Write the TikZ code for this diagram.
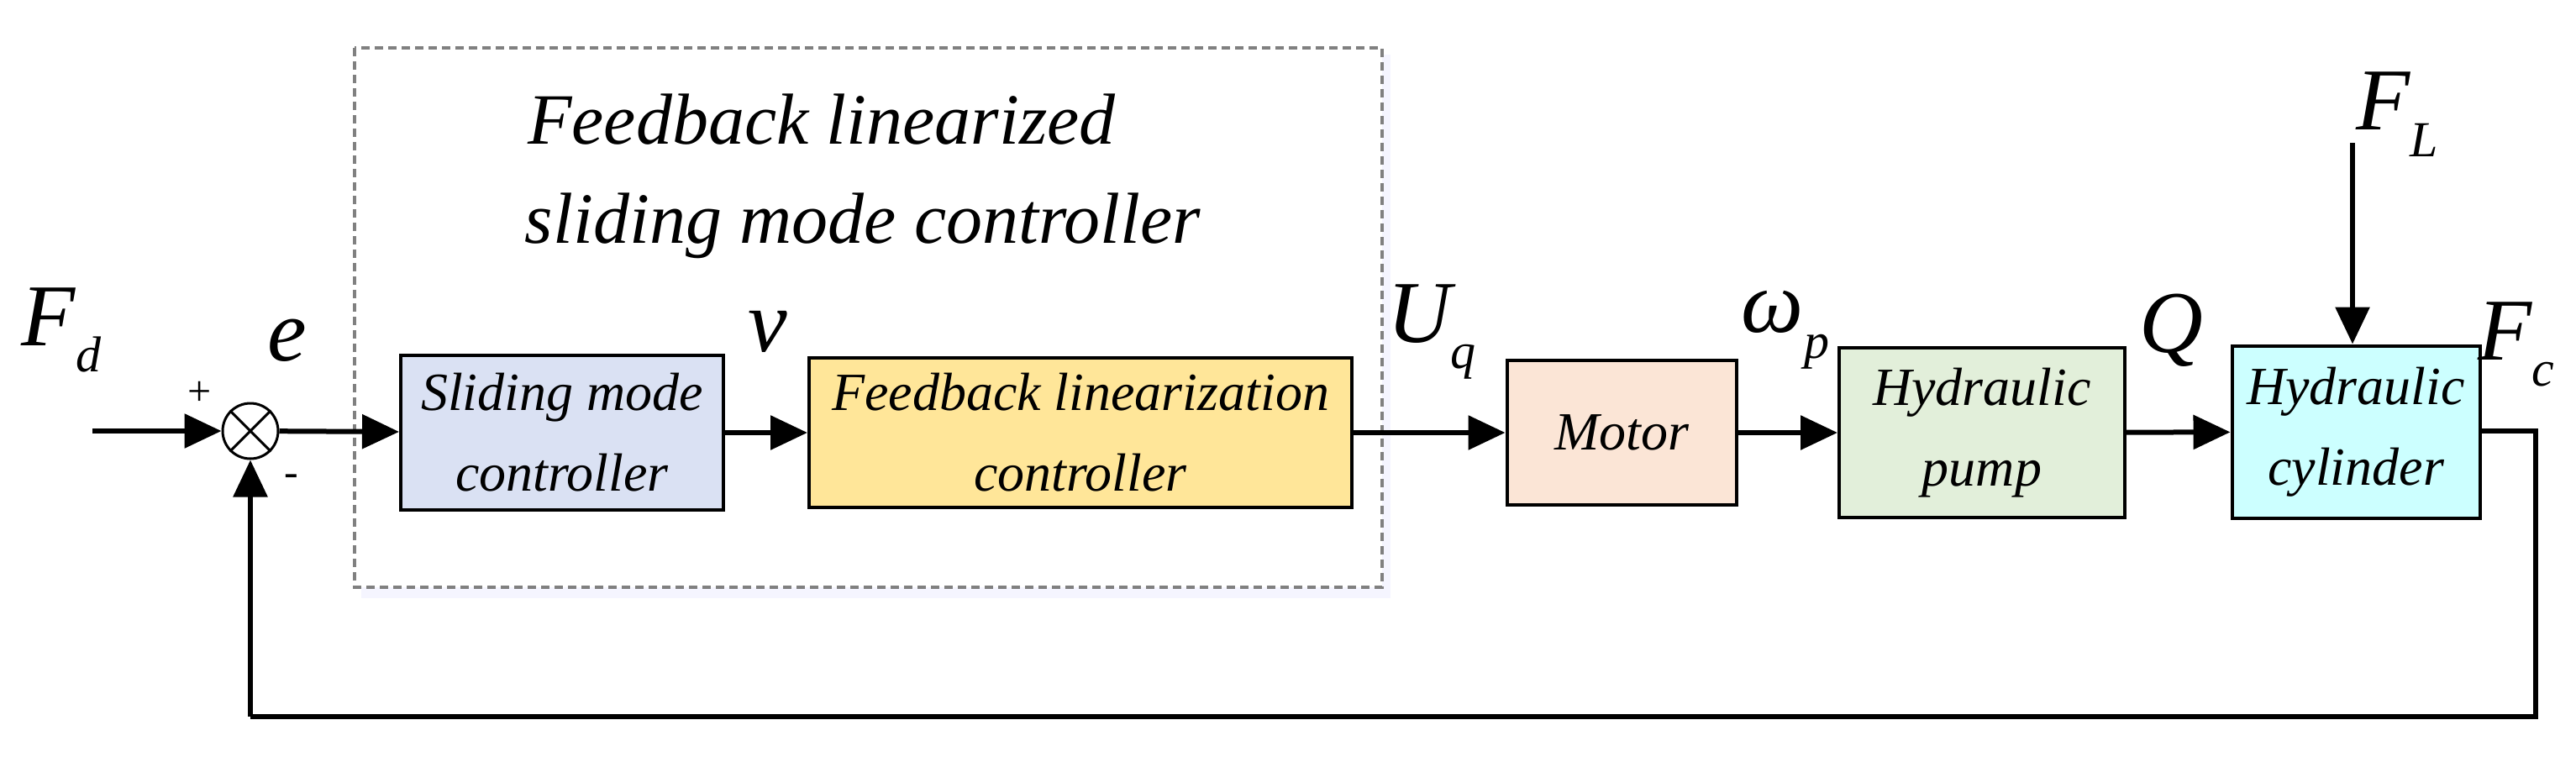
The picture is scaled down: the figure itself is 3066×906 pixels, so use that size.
\documentclass[tikz,border=0pt]{standalone}
\usepackage{fontspec}
\setmainfont{Liberation Serif}
\usetikzlibrary{arrows.meta}
\definecolor{cSMC}{HTML}{DAE1F3}
\definecolor{cFLC}{HTML}{FFE699}
\definecolor{cMot}{HTML}{FBE5D6}
\definecolor{cPump}{HTML}{E2EFDA}
\definecolor{cCyl}{HTML}{CCFFFF}
\begin{document}
\begin{tikzpicture}[x=1pt,y=-1pt,
  blk/.style={draw,line width=4pt,inner sep=0pt,align=center,font=\fontsize{64}{96}\selectfont\itshape},
  sig/.style={line width=6pt,-{Triangle[length=44pt,width=40pt]}},
  ln/.style={line width=6pt},
  lab/.style={font=\fontsize{105}{100}\selectfont\itshape,inner sep=0pt},
  title/.style={font=\fontsize{86}{86}\selectfont\itshape,inner sep=0pt}]
\useasboundingbox (0,0) rectangle (3066,906);
\fill[blue!4] (430,65) rectangle (1655,712);
\draw[gray,dashed,line width=4pt,dash pattern=on 10pt off 6pt,fill=white] (422,57) rectangle (1645,699);
\node[title] (t1) at (978,142) {Feedback linearized};
\node[title] (t2) at (1027,269) {sliding mode controller};
\node[blk,fill=cSMC,minimum width=384pt,minimum height=184pt] (smc) at (669,515) {Sliding mode\\controller};
\node[blk,fill=cFLC,minimum width=646pt,minimum height=178pt] (flc) at (1286,515) {Feedback linearization\\controller};
\node[blk,fill=cMot,minimum width=273pt,minimum height=172pt] (mot) at (1930,515) {Motor};
\node[blk,fill=cPump,minimum width=340pt,minimum height=202pt] (pump) at (2359,515) {Hydraulic\\pump};
\node[blk,fill=cCyl,minimum width=295pt,minimum height=205pt] (cyl) at (2804,514) {Hydraulic\\cylinder};
\node[draw,circle,line width=3pt,minimum size=66pt,inner sep=0pt] (sum) at (298,513) {};
\draw[line width=3pt] (sum.north west) -- (sum.south east) (sum.north east) -- (sum.south west);
\coordinate (in) at (110,513);
\coordinate (fl) at (2800,170);
\coordinate (o1) at (3018,513);
\coordinate (o2) at (3018,853);
\coordinate (o3) at (298,853);
\draw[sig] (in) -- (sum);
\draw[sig] (sum) -- (smc);
\draw[sig] (smc) -- (flc);
\draw[sig] (flc) -- (mot);
\draw[sig] (mot) -- (pump);
\draw[sig] (pump) -- (cyl);
\draw[sig] (fl) -- (cyl.north -| fl);
\draw[ln] (cyl.east |- o1) -- (o1) -- (o2) -- (o3);
\draw[sig] (o3) -- (sum);
\node[lab] (fd) at (73,393) {F\raisebox{-0.3em}{\fontsize{60}{60}\selectfont d}};
\node[lab] (e) at (342,405) {e};
\node[lab] (v) at (914,395) {v};
\node[lab] (uq) at (1704,395) {U\raisebox{-0.3em}{\fontsize{60}{60}\selectfont q}};
\node[lab] (wp) at (2125,393) {ω\raisebox{-0.3em}{\fontsize{60}{60}\selectfont p}};
\node[lab] (q) at (2584,393) {Q};
\node[lab] (fc) at (2995,410) {F\raisebox{-0.3em}{\fontsize{60}{60}\selectfont c}};
\node[lab] (fL) at (2853,136) {F\raisebox{-0.3em}{\fontsize{60}{60}\selectfont L}};
\node[font=\fontsize{50}{50}\selectfont,inner sep=0pt] (plus) at (238,468) {+};
\node[font=\fontsize{50}{50}\selectfont,inner sep=0pt] (minus) at (347,572) {-};
\end{tikzpicture}
\end{document}
